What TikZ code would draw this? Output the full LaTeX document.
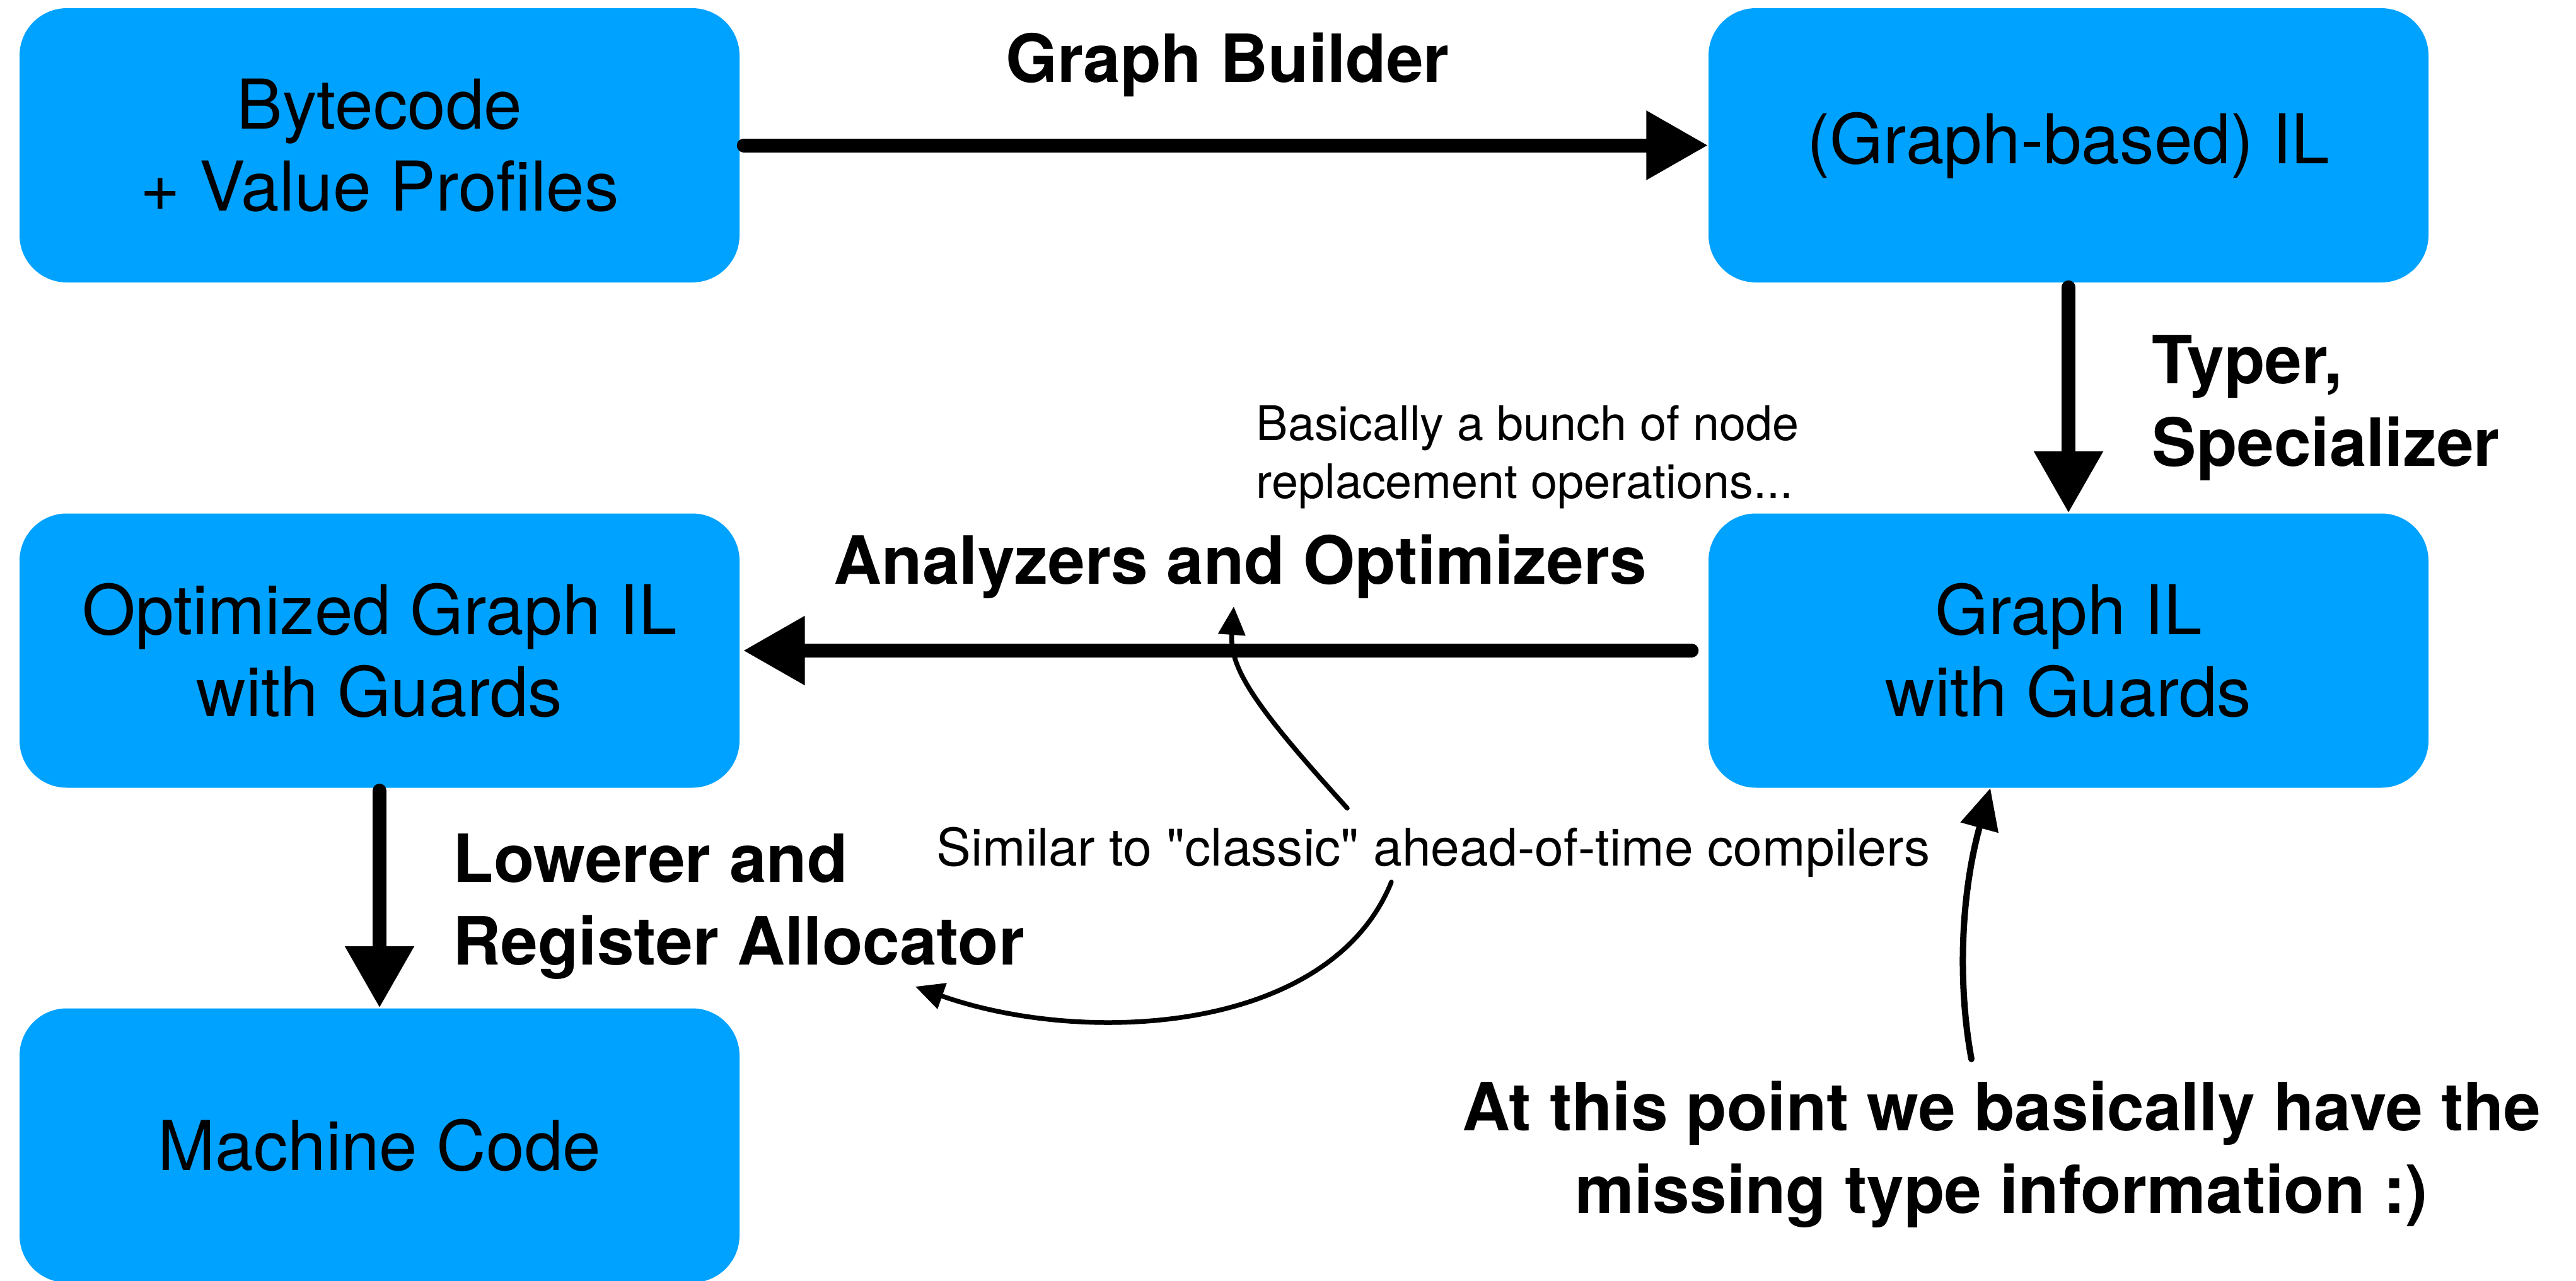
\documentclass[tikz,border=0pt]{standalone}
\usepackage{fontspec}
\setmainfont{TeX Gyre Heros}
\newfontfamily\notefont{TeX Gyre Heros}
\usetikzlibrary{arrows.meta,positioning}
\definecolor{boxblue}{HTML}{00A2FF}
\tikzset{
  every picture/.style={line join=round, line cap=round, >=Stealth},
  stage/.style={fill=boxblue, rounded corners=0.75cm, minimum width=11.42cm, minimum height=4.35cm,
    inner sep=0pt, align=center, font=\fontsize{31}{37}\selectfont},
  passlabel/.style={font=\fontsize{30}{37}\selectfont\bfseries, inner sep=0pt},
  remark/.style={font=\notefont\fontsize{21.5}{26}\selectfont, inner sep=0pt},
  flow/.style={line width=0.22cm, -{Triangle[length=0.98cm,width=1.04cm]}},
  hint/.style={line width=0.075cm, -{Triangle[length=0.45cm,width=0.42cm]}},
  bighint/.style={line width=0.1cm, -{Triangle[length=0.65cm,width=0.6cm]}},
}

\begin{document}
\begin{tikzpicture}[x=1cm,y=-1cm]
\useasboundingbox (0,0) rectangle (40.86,20.32);
\clip (0,0) rectangle (40.86,20.32);
% stages
\node[stage] (bytecode) at (6.02,2.305) {Bytecode\\+ Value Profiles};
\node[stage] (graphil) at (32.81,2.305) {(Graph-based) IL};
\node[stage] (guarded) at (32.81,10.32) {Graph IL\\with Guards};
\node[stage] (optimized) at (6.02,10.32) {Optimized Graph IL\\with Guards};
\node[stage] (machine) at (6.02,18.17) {Machine Code};
% passes
\node[passlabel, anchor=base] (builder) at (19.47,1.30) {Graph Builder};
\node[passlabel, anchor=base west, align=left] (typer) at (34.13,7.39) {Typer,\\Specializer};
\node[passlabel, anchor=base] (analyzers) at (19.675,9.26) {Analyzers and Optimizers};
\node[passlabel, anchor=base west, align=left] (lowerer) at (7.18,15.30) {Lowerer and\\Register Allocator};
% remarks
\node[remark, anchor=base west, align=left] (replace) at (19.92,7.90) {Basically a bunch of node\\replacement operations...};
\node[remark, anchor=base west, font=\notefont\fontsize{23.4}{28}\selectfont] (similar) at (14.85,13.73)
  {Similar to "classic" ahead-of-time compilers};
\node[passlabel, anchor=base, align=center] (missing) at (31.75,19.24) {At this point we basically have the\\missing type information :)};
\draw[flow, shorten <=0.06cm] (bytecode.east) -- (graphil.west);
\draw[flow, shorten <=0.07cm] (graphil.south) -- (guarded.north);
\draw[flow, shorten <=0.26cm, shorten >=0.05cm] (guarded.west) -- (optimized.east);
\draw[flow, shorten <=0.04cm] (optimized.south) -- (machine.north);
% notes
\coordinate (simtop) at (21.37,12.82);
\coordinate (simbot) at (22.07,13.99);
\coordinate (typefoot) at (31.27,16.80);
\coordinate (anatip) at (19.57,9.62);
\coordinate (regtip) at (14.52,15.65);
\draw[hint] (simtop) .. controls (19.90,11.20) and (19.50,10.60) .. (anatip);
\draw[hint] (simbot) .. controls (21.10,16.40) and (17.20,16.60) .. (regtip);
\draw[bighint] (typefoot) .. controls (31.05,15.60) and (31.10,14.20) .. ([xshift=-1.24cm]guarded.south);
\end{tikzpicture}
\end{document}
